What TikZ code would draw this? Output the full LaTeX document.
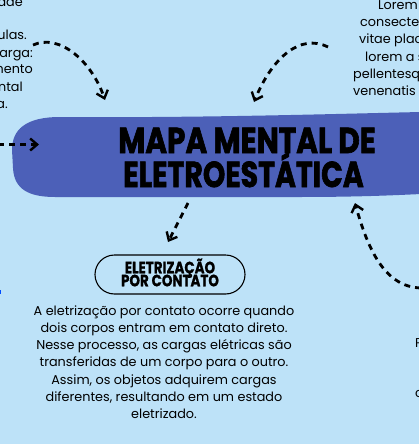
\documentclass[tikz,border=0pt]{standalone}
\usepackage{fontspec}
\setmainfont{Poppins}
\newfontfamily\titlefont[FakeBold=2]{Poppins Bold}
\newfontfamily\pillfont[FakeBold=1]{Poppins Bold}
\usetikzlibrary{arrows.meta}
\definecolor{bgblue}{RGB}{189,226,248}
\definecolor{banner}{RGB}{76,96,184}
\tikzset{
  dasharrow/.style={draw=black, line width=2.8pt, dash pattern=on 6pt off 5pt,
    -{Straight Barb[length=7pt,width=12pt,line width=2.4pt]}},
  titleline/.style={anchor=base, inner sep=0pt, text=black},
  body/.style={font=\fontsize{12.8}{17.2}\selectfont, text=black, inner sep=0pt},
  pill/.style={draw=black, line width=1.1pt, rounded corners=19.5pt, fill=bgblue},
}
\begin{document}
\begin{tikzpicture}[x=1pt,y=-1pt]
\path[use as bounding box] (0,0) rectangle (419,444);
\clip (0,0) rectangle (419,444);
\fill[bgblue] (0,0) rectangle (419,444);

% banner
\fill[banner] (421,112) .. controls (330,114) and (200,118) .. (60,117)
  .. controls (25,117) and (12,130) .. (12,150)
  -- (13,168) .. controls (14,190) and (30,197) .. (55,197)
  -- (300,197) .. controls (360,197) and (400,195) .. (421,194) -- cycle;

\node[titleline] (t1) at (247,153) {\scalebox{0.82}[1]{\fontsize{36}{36}\titlefont MAPA MENTAL DE}};
\node[titleline] (t2) at (243.5,187) {\scalebox{0.79}[1]{\fontsize{36}{36}\titlefont ELETROESTÁTICA}};

% pill label
\node[pill, minimum width=150pt, minimum height=39pt, inner sep=0pt] (pillbox) at (170,274.5) {};
\node[anchor=base, inner sep=0pt, align=center,
      font={\fontsize{16.4}{13}\pillfont\lineskiplimit=-20pt}] (plabel) at (170,286.3)
  {\scalebox{0.82}[1]{ELETRIZAÇÃO}\\\scalebox{0.82}[1]{POR CONTATO}};

% body text
\node[body, align=center, anchor=base] (desc) at (164,418.5) {A eletrização por contato ocorre quando\\
dois corpos entram em contato direto.\\
Nesse processo, as cargas elétricas são\\
transferidas de um corpo para o outro.\\
Assim, os objetos adquirem cargas\\
diferentes, resultando em um estado\\
eletrizado.};

% top-left fragments
\node[body, anchor=base east] (l1) at (23,7) {ade};
\node[body, anchor=base east] (l2) at (27,40) {ulas.};
\node[body, anchor=base east] (l3) at (33,57) {arga:};
\node[body, anchor=base east] (l4) at (33,74) {mento};
\node[body, anchor=base east] (l5) at (23,91) {ntal};
\node[body, anchor=base east] (l6) at (8,108) {a.};

% top-right fragments
\node[body, anchor=base west] (r1) at (378,10) {Lorem};
\node[body, anchor=base west] (r2) at (360,27) {consecte};
\node[body, anchor=base west] (r3) at (359,44) {vitae plac};
\node[body, anchor=base west] (r4) at (365,61) {lorem a s};
\node[body, anchor=base west] (r5) at (353,78) {pellentesq};
\node[body, anchor=base west] (r6) at (353,95) {venenatis};

% bottom-right fragments
\node[body, anchor=base west] (b1) at (415,347) {P};
\node[body, anchor=base west] (b2) at (415,397) {c};

% tiny blue mark at left edge
\fill[blue!70!cyan] (0,290) rectangle (1.2,294);

% arrows
\coordinate (a1s) at (33,45);
\coordinate (a1e) at (105,100);
\draw[dasharrow] (a1s) .. controls (60,33) and (92,62) .. (a1e);

\coordinate (a2s) at (328,47);
\coordinate (a2e) at (254,102);
\draw[dasharrow] (a2s) .. controls (300,33) and (272,58) .. (a2e);

\coordinate (a3s) at (-2,144.5);
\coordinate (a3e) at (39,144.5);
\draw[dasharrow] (a3s) -- (a3e);

\coordinate (a4s) at (188,203);
\coordinate (a4e) at (168,242);
\draw[dasharrow] (a4s) -- (a4e);

\coordinate (a5s) at (421,288);
\coordinate (a5e) at (355,203);
\draw[dasharrow] (a5s) .. controls (385,287) and (368,250) .. (a5e);
\end{tikzpicture}
\end{document}
